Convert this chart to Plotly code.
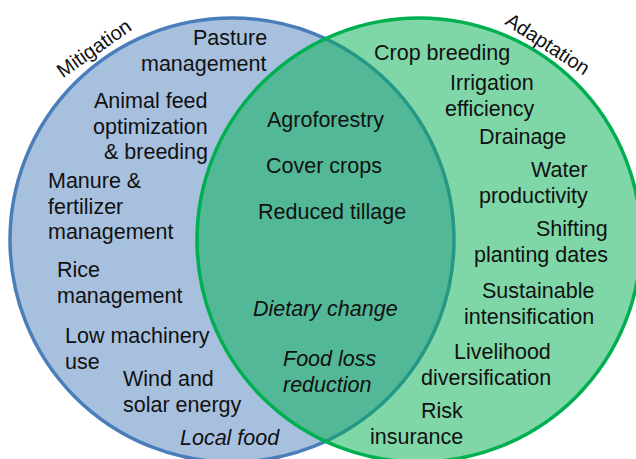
import plotly.graph_objects as go

# ---- data: labels of the Venn diagram ----
set_names = ["Mitigation", "Adaptation"]

mitigation_only = [
    "Pasture<br>management",
    "Animal feed<br>optimization<br>& breeding",
    "Manure &<br>fertilizer<br>management",
    "Rice<br>management",
    "Low machinery<br>use",
    "Wind and<br>solar energy",
    "<i>Local food</i>",
]
both = [
    "Agroforestry",
    "Cover crops",
    "Reduced tillage",
    "<i>Dietary change</i>",
    "<i>Food loss<br>reduction</i>",
]
adaptation_only = [
    "Crop breeding",
    "Irrigation<br>efficiency",
    "Drainage",
    "Water<br>productivity",
    "Shifting<br>planting dates",
    "Sustainable<br>intensification",
    "Livelihood<br>diversification",
    "Risk<br>insurance",
]

# ---- layout (pixel coordinates of the page) ----
W, H = 636, 459
circle_centers = [(232, 240), (419, 240)]
circle_radius = 222

mitigation_pos = [(267, 38, "right"), (208, 101, "right"), (48, 181, "left"),
                  (57, 270, "left"), (65, 336, "left"), (123, 379, "left"),
                  (180, 438, "left")]
both_pos = [(325, 120, "center"), (324, 166, "center"), (332, 212, "center"),
            (325, 309, "center"), (283, 359, "left")]
adaptation_pos = [(374, 53, "left"), (534, 83, "right"), (479, 137, "left"),
                  (588, 170, "right"), (608, 229, "right"), (594, 291, "right"),
                  (551, 352, "right"), (463, 411, "right")]

LINE_GAP = 25.5
FONT = "Arial, Liberation Sans, sans-serif"

fig = go.Figure()
fig.add_trace(go.Scatter(x=[0, W], y=[0, H], mode="markers",
                         marker=dict(opacity=0), hoverinfo="skip", showlegend=False))

fills = ["rgba(79,129,189,0.5)", "rgba(0,176,80,0.5)"]
lines = ["#4A7EBB", "#00B050"]
for (cx, cy), fc, lc in zip(circle_centers, fills, lines):
    fig.add_shape(type="circle", xref="x", yref="y",
                  x0=cx - circle_radius, x1=cx + circle_radius,
                  y0=cy - circle_radius, y1=cy + circle_radius,
                  fillcolor=fc, line=dict(color=lc, width=3.5), layer="below")

annotations = []


def add_label(text, x, y, anchor):
    italic = text.startswith("<i>")
    raw = text.replace("<i>", "").replace("</i>", "")
    for i, line in enumerate(raw.split("<br>")):
        t = f"<i>{line}</i>" if italic else line
        annotations.append(dict(x=x, y=y + i * LINE_GAP, xref="x", yref="y", text=t,
                                showarrow=False, xanchor=anchor, yanchor="middle",
                                borderpad=0, borderwidth=0,
                                font=dict(family=FONT, size=21.5, color="#111111")))


for labels, pos in [(mitigation_only, mitigation_pos), (both, both_pos),
                    (adaptation_only, adaptation_pos)]:
    for txt, (x, y, a) in zip(labels, pos):
        add_label(txt, x, y, a)

# set titles, rotated along the circles
title_pos = [(94, 48, -35), (548, 44, 33)]
for name, (x, y, ang) in zip(set_names, title_pos):
    annotations.append(dict(x=x, y=y, xref="x", yref="y", text=name, showarrow=False,
                            textangle=ang, xanchor="center", yanchor="middle",
                            borderpad=0, borderwidth=0,
                            font=dict(family=FONT, size=20, color="#111111")))

fig.update_layout(
    width=W, height=H, margin=dict(l=0, r=0, t=0, b=0),
    paper_bgcolor="white", plot_bgcolor="white",
    xaxis=dict(range=[0, W], visible=False, fixedrange=True),
    yaxis=dict(range=[H, 0], visible=False, fixedrange=True),
    annotations=annotations, showlegend=False,
)

fig.write_html("out.html", config={"displayModeBar": False},
               post_script="document.body.style.margin='0';document.body.style.overflow='hidden';")
